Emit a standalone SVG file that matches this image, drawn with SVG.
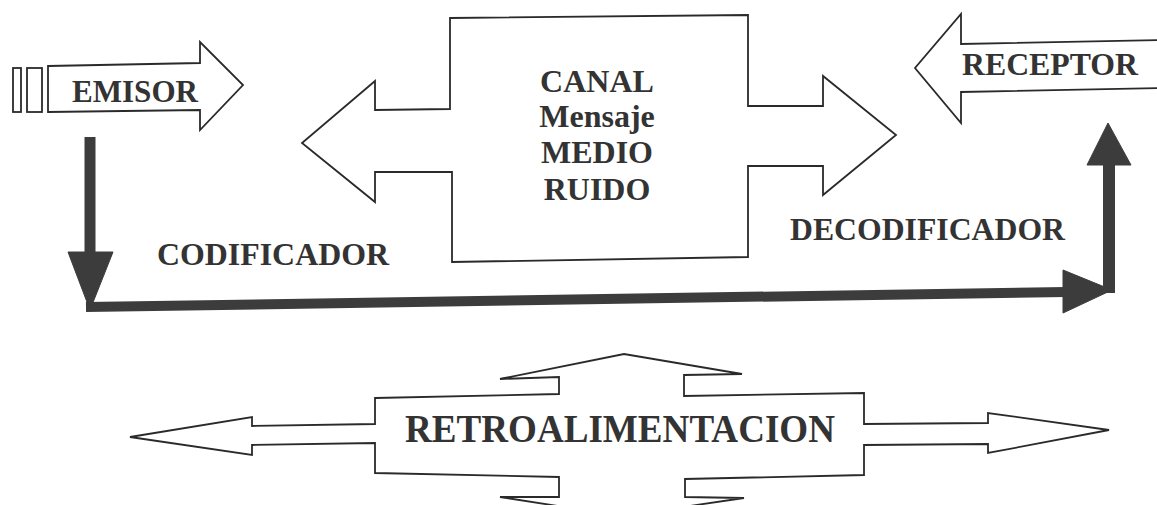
<svg xmlns="http://www.w3.org/2000/svg" width="1157" height="505" viewBox="0 0 1157 505">
<style>
.outline{fill:#ffffff;stroke:#2a2a2a;stroke-width:1.8;stroke-linejoin:miter}
.lbl{font-family:"Liberation Serif","Times New Roman",serif;font-weight:bold;fill:#333333}
.dark{fill:#3c3c3c;stroke:#3c3c3c}
</style>
<rect width="1157" height="505" fill="#ffffff"/>
<g id="emisor">
<rect class="outline" x="13" y="68" width="8" height="44"/>
<rect class="outline" x="27" y="68" width="15" height="44"/>
<polygon class="outline" points="48,66 200,63 200,42 243,85 200,130 200,110 48,112"/>
<text class="lbl" x="72" y="102" font-size="31" textLength="126" lengthAdjust="spacingAndGlyphs">EMISOR</text>
</g>
<g id="canal">
<polygon class="outline" points="450,18 748,15 748,106 823,106 823,76 896,135 823,195 823,166 748,166 748,257 452,262 452,172 375,172 375,202 302,143 375,81 375,110 450,109"/>
<g class="lbl" font-size="32" text-anchor="middle">
<text x="597" y="92">CANAL</text>
<text x="597" y="127">Mensaje</text>
<text x="597" y="163">MEDIO</text>
<text x="597" y="200">RUIDO</text>
</g>
</g>
<g id="receptor">
<polygon class="outline" points="1160,40 961,44 961,14 915,68 961,123 961,92 1160,88"/>
<text class="lbl" x="962" y="75" font-size="32" textLength="176" lengthAdjust="spacingAndGlyphs">RECEPTOR</text>
</g>
<g id="codificador">
<text class="lbl" x="157" y="265" font-size="32" textLength="232" lengthAdjust="spacingAndGlyphs">CODIFICADOR</text>
</g>
<g id="decodificador">
<text class="lbl" x="790" y="240" font-size="32" textLength="275" lengthAdjust="spacingAndGlyphs">DECODIFICADOR</text>
</g>
<g id="retroalimentacion">
<polygon class="outline" points="375,398 559,394 559,377 500,379 624,354 742,374 684,375 684,396 864,393 864,424 988,423 988,413 1109,430 988,453 988,444 864,445 864,475 685,479 685,497 744,498 622,516 500,497 559,497 559,477 375,473 375,443 252,445 252,455 130,437 252,417 252,426 375,424"/>
<text class="lbl" x="405" y="442" font-size="40" textLength="430" lengthAdjust="spacingAndGlyphs">RETROALIMENTACION</text>
</g>
<g id="connectors">
<line x1="90" y1="137" x2="90" y2="256" stroke="#3c3c3c" stroke-width="11"/>
<polygon class="dark" points="68,252 113,252 90,310"/>
<line x1="86" y1="307" x2="1066" y2="292" stroke="#3c3c3c" stroke-width="10"/>
<polygon class="dark" points="1063,270 1112,290 1063,313"/>
<line x1="1109" y1="293" x2="1109" y2="160" stroke="#3c3c3c" stroke-width="12"/>
<polygon class="dark" points="1087,165 1108,123 1131,165"/>
</g>
</svg>
